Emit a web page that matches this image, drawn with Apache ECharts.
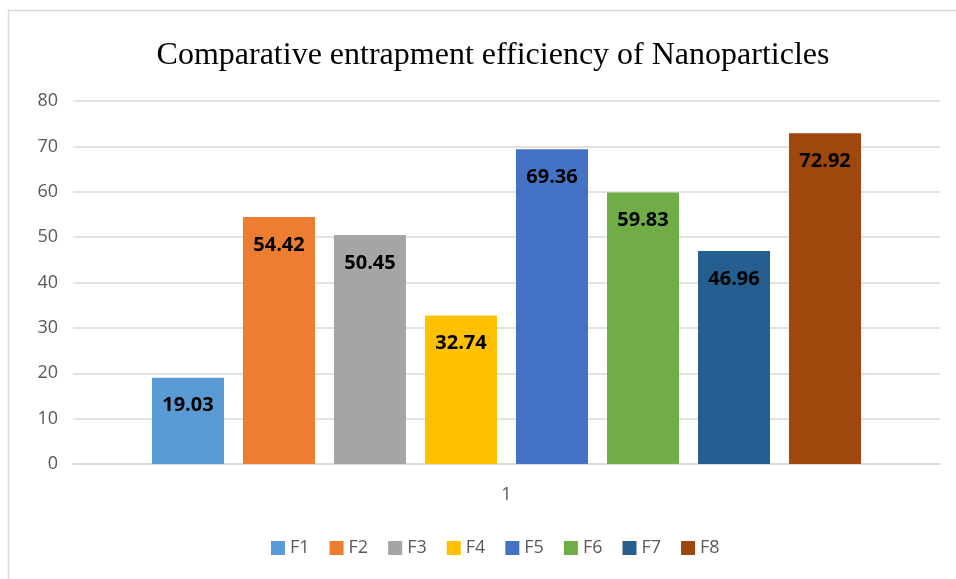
<!DOCTYPE html>
<html>
<head>
<meta charset="utf-8">
<script src="https://cdn.jsdelivr.net/npm/echarts@6/dist/echarts.min.js"></script>
<style>
  html, body { margin: 0; padding: 0; background: #fff; }
  #main { width: 956px; height: 579px; }
</style>
</head>
<body>
<div id="main"></div>
<script>
// 数据
var categories = ['1'];
var seriesNames = ['F1', 'F2', 'F3', 'F4', 'F5', 'F6', 'F7', 'F8'];
var seriesValues = [19.03, 54.42, 50.45, 32.74, 69.36, 59.83, 46.96, 72.92];
var seriesColors = ['#5B9BD5', '#ED7D31', '#A5A5A5', '#FFC000', '#4472C4', '#70AD47', '#255E91', '#9E480E'];
var yTicks = [0, 10, 20, 30, 40, 50, 60, 70, 80];

var myChart = echarts.init(document.getElementById('main'));

var series = seriesNames.map(function (name, i) {
  return {
    name: name,
    type: 'bar',
    data: [seriesValues[i]],
    barWidth: 72,
    barGap: '26.4%',
    itemStyle: { color: seriesColors[i] },
    label: {
      show: true,
      position: 'insideTop',
      distance: 18,
      formatter: function (p) { return p.value.toFixed(2); },
      color: '#000',
      fontWeight: 'bold',
      fontSize: 20,
      fontFamily: 'Open Sans, sans-serif'
    }
  };
});

var option = {
  animation: false,
  backgroundColor: '#fff',
  // 外框
  graphic: [{
    type: 'rect',
    shape: { x: 8.5, y: 10.5, width: 960, height: 600 },
    style: { fill: 'none', stroke: '#d9d9d9', lineWidth: 1.5 },
    silent: true
  }],
  title: {
    text: 'Comparative entrapment efficiency of Nanoparticles',
    left: 488,
    textAlign: 'center',
    top: 35,
    textStyle: {
      fontFamily: 'Liberation Serif, serif',
      fontWeight: 'normal',
      fontSize: 32,
      color: '#000'
    }
  },
  legend: {
    data: seriesNames,
    bottom: 17,
    left: 266,
    itemWidth: 14,
    itemHeight: 14,
    itemGap: 20,
    icon: 'rect',
    textStyle: { color: '#595959', fontSize: 18, fontFamily: 'Open Sans, sans-serif' }
  },
  grid: { left: 73, right: 16, top: 101, bottom: 115 },
  xAxis: {
    type: 'category',
    data: categories,
    axisLine: { lineStyle: { color: '#d9d9d9', width: 1.5 } },
    axisTick: { show: false },
    axisLabel: { color: '#595959', fontSize: 18, margin: 22, fontFamily: 'Open Sans, sans-serif' }
  },
  yAxis: {
    type: 'value',
    min: yTicks[0],
    max: yTicks[yTicks.length - 1],
    interval: 10,
    axisLine: { show: false },
    axisTick: { show: false },
    axisLabel: { color: '#595959', fontSize: 18, margin: 15, fontFamily: 'Open Sans, sans-serif' },
    splitLine: { lineStyle: { color: '#d9d9d9', width: 1.5 } }
  },
  series: series
};

myChart.setOption(option);
</script>
</body>
</html>
